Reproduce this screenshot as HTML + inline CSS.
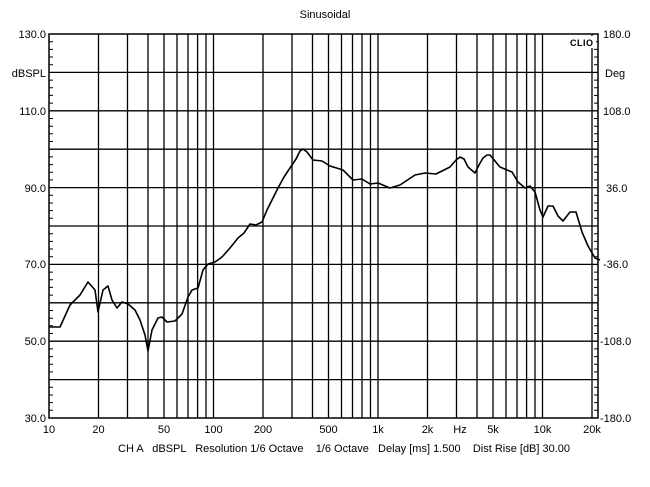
<!DOCTYPE html>
<html><head><meta charset="utf-8"><style>
html,body{margin:0;padding:0;background:#fff;}
svg{display:block;font-family:"Liberation Sans",sans-serif;}
</style></head><body>
<svg width="650" height="487" viewBox="0 0 650 487" xmlns="http://www.w3.org/2000/svg">
<rect width="650" height="487" fill="#fff"/>
<g stroke="#000" stroke-width="1.3" fill="none">
<rect x="49" y="34" width="549" height="384" stroke-width="1.5"/>
<path d="M49 72.4H598M49 110.8H598M49 149.2H598M49 187.6H598M49 226H598M49 264.4H598M49 302.8H598M49 341.2H598M49 379.6H598"/>
<path d="M98.5 34V418M127.5 34V418M148 34V418M164 34V418M177 34V418M188 34V418M197.6 34V418M206 34V418M213.5 34V418
M263 34V418M292 34V418M312.5 34V418M328.5 34V418M341.5 34V418M352.5 34V418M362 34V418M370.5 34V418M378 34V418
M427.5 34V418M456.5 34V418M477 34V418M493 34V418M506 34V418M517 34V418M526.6 34V418M535 34V418M542.5 34V418M592 34V418"/>
<path stroke-width="1" d="M49 41.7h4M49 49.4h4M49 57.0h4M49 64.7h4M49 80.1h4M49 87.8h4M49 95.4h4M49 103.1h4M49 118.5h4M49 126.2h4M49 133.8h4M49 141.5h4M49 156.9h4M49 164.6h4M49 172.2h4M49 179.9h4M49 195.3h4M49 203h4M49 210.6h4M49 218.3h4M49 233.7h4M49 241.4h4M49 249h4M49 256.7h4M49 272.1h4M49 279.8h4M49 287.4h4M49 295.1h4M49 310.5h4M49 318.2h4M49 325.8h4M49 333.5h4M49 348.9h4M49 356.6h4M49 364.2h4M49 371.9h4M49 387.3h4M49 395h4M49 402.6h4M49 410.3h4
M598 41.7h-4M598 49.4h-4M598 57.0h-4M598 64.7h-4M598 80.1h-4M598 87.8h-4M598 95.4h-4M598 103.1h-4M598 118.5h-4M598 126.2h-4M598 133.8h-4M598 141.5h-4M598 156.9h-4M598 164.6h-4M598 172.2h-4M598 179.9h-4M598 195.3h-4M598 203h-4M598 210.6h-4M598 218.3h-4M598 233.7h-4M598 241.4h-4M598 249h-4M598 256.7h-4M598 272.1h-4M598 279.8h-4M598 287.4h-4M598 295.1h-4M598 310.5h-4M598 318.2h-4M598 325.8h-4M598 333.5h-4M598 348.9h-4M598 356.6h-4M598 364.2h-4M598 371.9h-4M598 387.3h-4M598 395h-4M598 402.6h-4M598 410.3h-4"/>
</g>
<polyline fill="none" stroke="#000" stroke-width="1.6" stroke-linejoin="round" points="49,327 60,327 70,305 80,295 88,282 95,290 98,312 103,290 108,286 112,300 117,308 122,302 128,304 135,310 140,320 145,335 148,351 152,330 158,318 162,317 167,322 175,321 182,314 188,297 192,290 198,288 203,270 208,264 215,262 222,257 230,248 238,238 244,233 250,224 256,225 262,222 267,210 272,200 278,188 284,177 290,168 296,159 300,151 303,149 307,152 313,160 322,161 330,166 343,170 353,180 362,179 370,184 378,183 390,188 400,185 415,175 425,173 436,174 450,167 456,160 460,157 464,159 468,167 475,173 479,165 483,158 487,155 490,155 495,161 500,167 507,170 512,172 518,182 525,188 530,186 535,192 540,210 543,217 548,206 553,206 558,216 563,221 570,212 576,212 582,232 588,246 595,258 600,260"/>
<g font-size="11" fill="#000">
<text x="325" y="18" text-anchor="middle">Sinusoidal</text>
<rect x="568" y="36" width="28" height="12" fill="#fff"/>
<text x="570" y="46" font-size="9" font-weight="bold" letter-spacing="0.5">CLIO</text>
<g text-anchor="end">
<text x="46" y="38">130.0</text><text x="46" y="77">dBSPL</text><text x="46" y="115">110.0</text><text x="46" y="192">90.0</text><text x="46" y="268">70.0</text><text x="46" y="345">50.0</text><text x="46" y="422">30.0</text>
</g>
<g text-anchor="start">
<text x="603" y="38">180.0</text><text x="605" y="77">Deg</text><text x="603" y="115">108.0</text><text x="606" y="192">36.0</text><text x="603" y="268">-36.0</text><text x="600" y="345">-108.0</text><text x="600" y="422">-180.0</text>
</g>
<g text-anchor="middle">
<text x="49" y="433">10</text><text x="98.5" y="433">20</text><text x="164" y="433">50</text><text x="213.5" y="433">100</text><text x="263" y="433">200</text><text x="328.5" y="433">500</text><text x="378" y="433">1k</text><text x="427.5" y="433">2k</text><text x="460" y="433">Hz</text><text x="493" y="433">5k</text><text x="542.5" y="433">10k</text><text x="592" y="433">20k</text>
</g>
<text x="118" y="452" xml:space="preserve">CH A   dBSPL   Resolution 1/6 Octave    1/6 Octave   Delay [ms] 1.500    Dist Rise [dB] 30.00</text>
</g>
</svg>
</body></html>
